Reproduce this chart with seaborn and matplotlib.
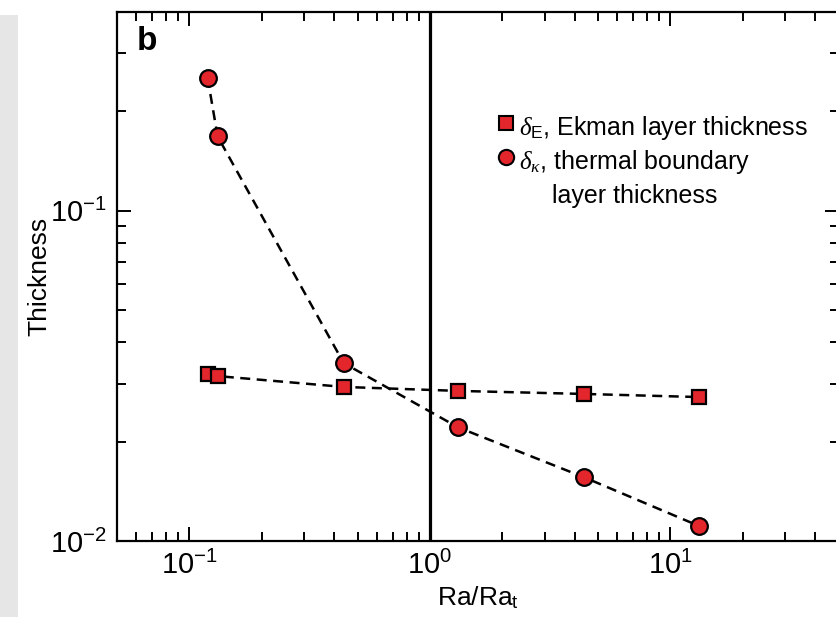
import matplotlib
matplotlib.use("Agg")
import matplotlib.pyplot as plt
import matplotlib.ticker as mticker
from matplotlib.lines import Line2D
from matplotlib.patches import Rectangle
import pandas as pd
import seaborn as sns

# Values
ra_ratio = [0.119, 0.131, 0.438, 1.31, 4.38, 13.2]
ekman_thickness = [0.0321, 0.0316, 0.0293, 0.0285, 0.0279, 0.0273]
thermal_thickness = [0.253, 0.168, 0.0346, 0.0221, 0.0156, 0.0111]

EKMAN_LABEL = r"$\delta_{\mathrm{E}}$, Ekman layer thickness"
THERMAL_LABEL = r"$\delta_{\kappa}$, thermal boundary" + "\n" + "layer thickness"

RED = "#e3262b"

sns.set_theme(style="ticks")
plt.rcParams["font.family"] = ["Liberation Sans", "DejaVu Sans"]
plt.rcParams["mathtext.fontset"] = "custom"
plt.rcParams["mathtext.rm"] = "Liberation Sans"
plt.rcParams["mathtext.it"] = "Liberation Serif:italic"
plt.rcParams["mathtext.bf"] = "Liberation Sans:bold"
plt.rcParams["text.color"] = "black"
plt.rcParams["axes.labelcolor"] = "black"

df = pd.DataFrame(
    {
        "ratio": ra_ratio * 2,
        "thickness": ekman_thickness + thermal_thickness,
        "series": ["ekman"] * len(ra_ratio) + ["thermal"] * len(ra_ratio),
    }
)

fig = plt.figure(figsize=(8.37, 6.17), dpi=100)
fig.patches.append(
    Rectangle((0, 0), 0.021, 0.975, transform=fig.transFigure,
              facecolor="#e6e6e6", edgecolor="none", zorder=0)
)
ax = fig.add_axes([0.1398, 0.123, 0.862, 0.8575])

ax.axvline(1.0, color="black", lw=2.3, zorder=1)

for name, marker, ms in [("ekman", "s", 10.5), ("thermal", "o", 12)]:
    sub = df[df["series"] == name]
    sns.lineplot(
        data=sub, x="ratio", y="thickness", ax=ax,
        color="black", linestyle=(0, (4, 2.6)), lw=1.8,
        marker=marker, markersize=ms, markerfacecolor=RED,
        markeredgecolor="black", markeredgewidth=1.6,
        legend=False, zorder=3, sort=False,
    )

ax.set_xscale("log")
ax.set_yscale("log")
ax.set_xlim(0.05, 50)
ax.set_ylim(0.01, 0.4)

ax.yaxis.set_major_locator(mticker.LogLocator(base=10))
ax.yaxis.set_minor_locator(mticker.LogLocator(base=10, subs=range(2, 10)))
ax.yaxis.set_minor_formatter(mticker.NullFormatter())
ax.xaxis.set_minor_formatter(mticker.NullFormatter())

ax.tick_params(which="both", direction="in", top=True, right=True,
               width=1.4, colors="black", labelsize=21)
ax.tick_params(which="major", length=10, pad=7)
ax.tick_params(which="minor", length=6.5)
for sp in ax.spines.values():
    sp.set_linewidth(1.6)
    sp.set_color("black")

ax.set_xlabel(r"Ra/Ra$_{\mathrm{t}}$", fontsize=19, labelpad=3)
ax.set_ylabel("Thickness", fontsize=19, labelpad=-1)

ax.text(0.028, 0.945, "b", transform=ax.transAxes, fontsize=24,
        fontweight="heavy", ha="left", va="center")

handles = [
    Line2D([], [], linestyle="none", marker="s", markersize=10,
           markerfacecolor=RED, markeredgecolor="black", markeredgewidth=1.5),
    Line2D([], [], linestyle="none", marker="o", markersize=11,
           markerfacecolor=RED, markeredgecolor="black", markeredgewidth=1.5),
]
leg = ax.legend(handles, [EKMAN_LABEL, THERMAL_LABEL], loc="upper right",
                bbox_to_anchor=(0.972, 0.826), frameon=False, fontsize=18,
                handlelength=0.6, handletextpad=0.25, labelspacing=0.25,
                borderaxespad=0)
for t in leg.get_texts():
    t.set_multialignment("center")
    t.set_linespacing(1.4)
# keep the marker next to the first line of a two-line label
for col in leg._legend_handle_box.get_children():
    for row in col.get_children():
        row.align = "top"

fig.savefig("out.png", dpi=100, facecolor="white")
